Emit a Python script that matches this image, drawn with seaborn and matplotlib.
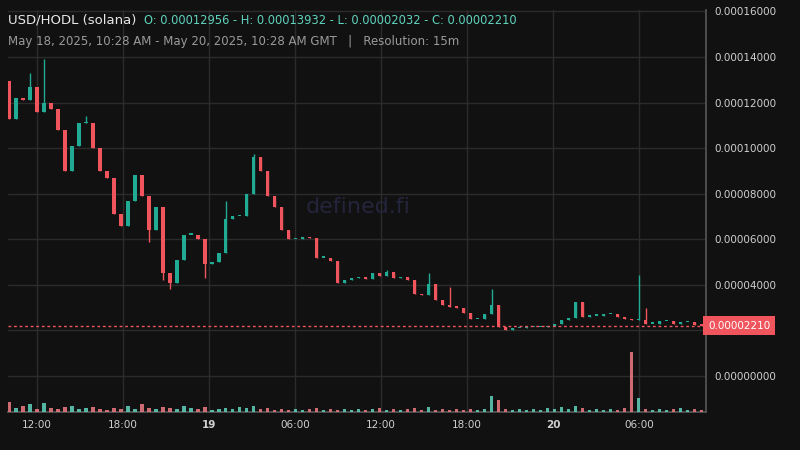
import matplotlib
matplotlib.use("Agg")
import matplotlib.pyplot as plt
import seaborn as sns
import numpy as np

# prices in units of 1e-5 USD, 30-minute candles
first_open = 12.956
closes = [11.3, 12.2, 12.1, 12.7, 11.6, 12.0, 11.7, 10.8, 9.0, 10.1,
          11.1, 11.1, 10.0, 9.0, 8.7, 7.1, 6.6, 7.7, 8.8, 7.9,
          6.4, 7.4, 4.5, 4.1, 5.1, 6.2, 6.2, 6.0, 4.9, 5.0,
          5.4, 6.9, 7.0, 7.0, 8.0, 9.6, 9.0, 7.9, 7.4, 6.4,
          6.0, 6.0, 6.1, 6.05, 5.2, 5.2, 5.05, 4.1, 4.2, 4.3,
          4.35, 4.25, 4.5, 4.4, 4.55, 4.3, 4.35, 4.2, 3.6, 3.55,
          4.05, 3.35, 3.1, 3.05, 3.0, 2.75, 2.5, 2.5, 2.7, 3.1,
          2.15, 2.0, 2.1, 2.1, 2.15, 2.15, 2.15, 2.2, 2.3, 2.45,
          2.55, 3.25, 2.6, 2.65, 2.65, 2.7, 2.7, 2.6, 2.5, 2.45,
          2.45, 2.3, 2.3, 2.4, 2.4, 2.3, 2.35, 2.35, 2.25, 2.21]
wick_highs = {3: 13.3, 5: 13.932, 11: 11.4, 31: 7.7, 35: 9.75, 54: 4.65,
              60: 4.5, 63: 3.9, 69: 3.8, 90: 4.45, 91: 3.0}
wick_lows = {20: 5.9, 22: 4.2, 23: 3.8, 28: 4.3, 71: 2.032}
volumes = [10, 4, 6, 8, 3, 9, 4, 3, 5, 6, 3, 4, 5, 3, 2, 4, 3, 6, 3, 8,
           4, 3, 5, 4, 3, 6, 4, 3, 5, 2, 3, 4, 3, 5, 4, 6, 3, 4, 2, 3,
           2, 3, 2, 3, 4, 2, 3, 2, 3, 2, 3, 2, 3, 4, 2, 3, 2, 3, 4, 2,
           5, 2, 3, 2, 3, 2, 3, 2, 3, 16, 12, 3, 2, 3, 2, 3, 2, 4, 3, 5,
           3, 6, 4, 2, 3, 2, 3, 2, 4, 60, 14, 3, 2, 3, 2, 3, 4, 2, 3, 2]
tick_labels = ["12:00", "18:00", "19", "06:00", "12:00", "18:00", "20", "06:00"]
price_ticks = [0, 4, 6, 8, 10, 12, 14, 16]
last_price = 2.21

scale = 1e-5
opens = [first_open] + closes[:-1]
idx = np.arange(len(closes))

bg = "#111111"
up, down = "#22ab94", "#f0545c"
sns.set_theme(style="dark", rc={"axes.facecolor": bg, "figure.facecolor": bg,
                                "patch.edgecolor": "none", "patch.linewidth": 0})

fig = plt.figure(figsize=(8, 4.5), dpi=100)
ax = fig.add_axes([8 / 800, 38 / 450, 698 / 800, 402 / 450])
ax.set_facecolor(bg)

y0 = (412 - 376) / 22.8  # space under zero for volume pane
ax.set_ylim(-y0 * scale, (4 + (285 - 10) / 22.8) * scale)
ax.set_xlim(-0.14, 99.6)

for p in [2] + price_ticks:
    ax.axhline(p * scale, color="#2b2b2b", lw=1, zorder=0)
tpos = [4.0 + 12.29 * k for k in range(len(tick_labels))]
for t in tpos:
    ax.axvline(t, color="#2b2b2b", lw=1, zorder=0)

# volume on its own hidden axis
vax = ax.twinx()
vax.set_ylim(0, max(volumes) * 402 / 60)
vcol = [("#5fd3bd" if c >= o else "#f07a84") for o, c in zip(opens, closes)]
vax.bar(idx, volumes, width=0.45, color=vcol, alpha=0.85, linewidth=0)
vax.set_axis_off()

for i, (o, c) in enumerate(zip(opens, closes)):
    col = up if c >= o else down
    hi = wick_highs.get(i, max(o, c))
    lo = wick_lows.get(i, min(o, c))
    ax.vlines(i, lo * scale, hi * scale, color=col, lw=1, zorder=3)
    body = max(abs(c - o), 0.06)
    ax.bar(i, body * scale, bottom=min(o, c) * scale, width=0.45, color=col,
           linewidth=0, zorder=4)

ax.axhline(last_price * scale, color=down, lw=1, ls=(0, (2, 2)), zorder=5)

ax.yaxis.tick_right()
ax.set_yticks([p * scale for p in price_ticks])
ax.set_yticklabels([f"{p * scale:.8f}" for p in price_ticks], color="#cfcfcf", fontsize=7.5)
ax.set_xticks(tpos)
ax.set_xticklabels(tick_labels, color="#cfcfcf", fontsize=7.5)
for lab in ax.get_xticklabels():
    if lab.get_text() in ("19", "20"):
        lab.set_fontweight("bold")
ax.tick_params(length=0, pad=6)
for s in ["top", "left"]:
    ax.spines[s].set_visible(False)
for s in ["right", "bottom"]:
    ax.spines[s].set_color("#555555")

ax.text(99.9, last_price * scale, f"{last_price * scale:.8f}", color="white",
        fontsize=7.5, va="center", ha="left", zorder=10,
        bbox=dict(boxstyle="square,pad=0.45", fc=down, ec="none"))

fig.text(358 / 800, 1 - 207 / 450, "defined.fi", color="#24243c", fontsize=16,
         ha="center", va="center")
fig.text(8 / 800, 1 - 20 / 450, "USD/HODL (solana)", color="#e8e8e8", fontsize=9.5, va="center")
fig.text(144 / 800, 1 - 20 / 450, "O: 0.00012956 - H: 0.00013932 - L: 0.00002032 - C: 0.00002210",
         color="#5fd3bd", fontsize=8.3, va="center")
fig.text(8 / 800, 1 - 41 / 450,
         "May 18, 2025, 10:28 AM - May 20, 2025, 10:28 AM GMT   |   Resolution: 15m",
         color="#9a9a9a", fontsize=8.5, va="center")

fig.savefig("out.png", dpi=100, facecolor=bg)
